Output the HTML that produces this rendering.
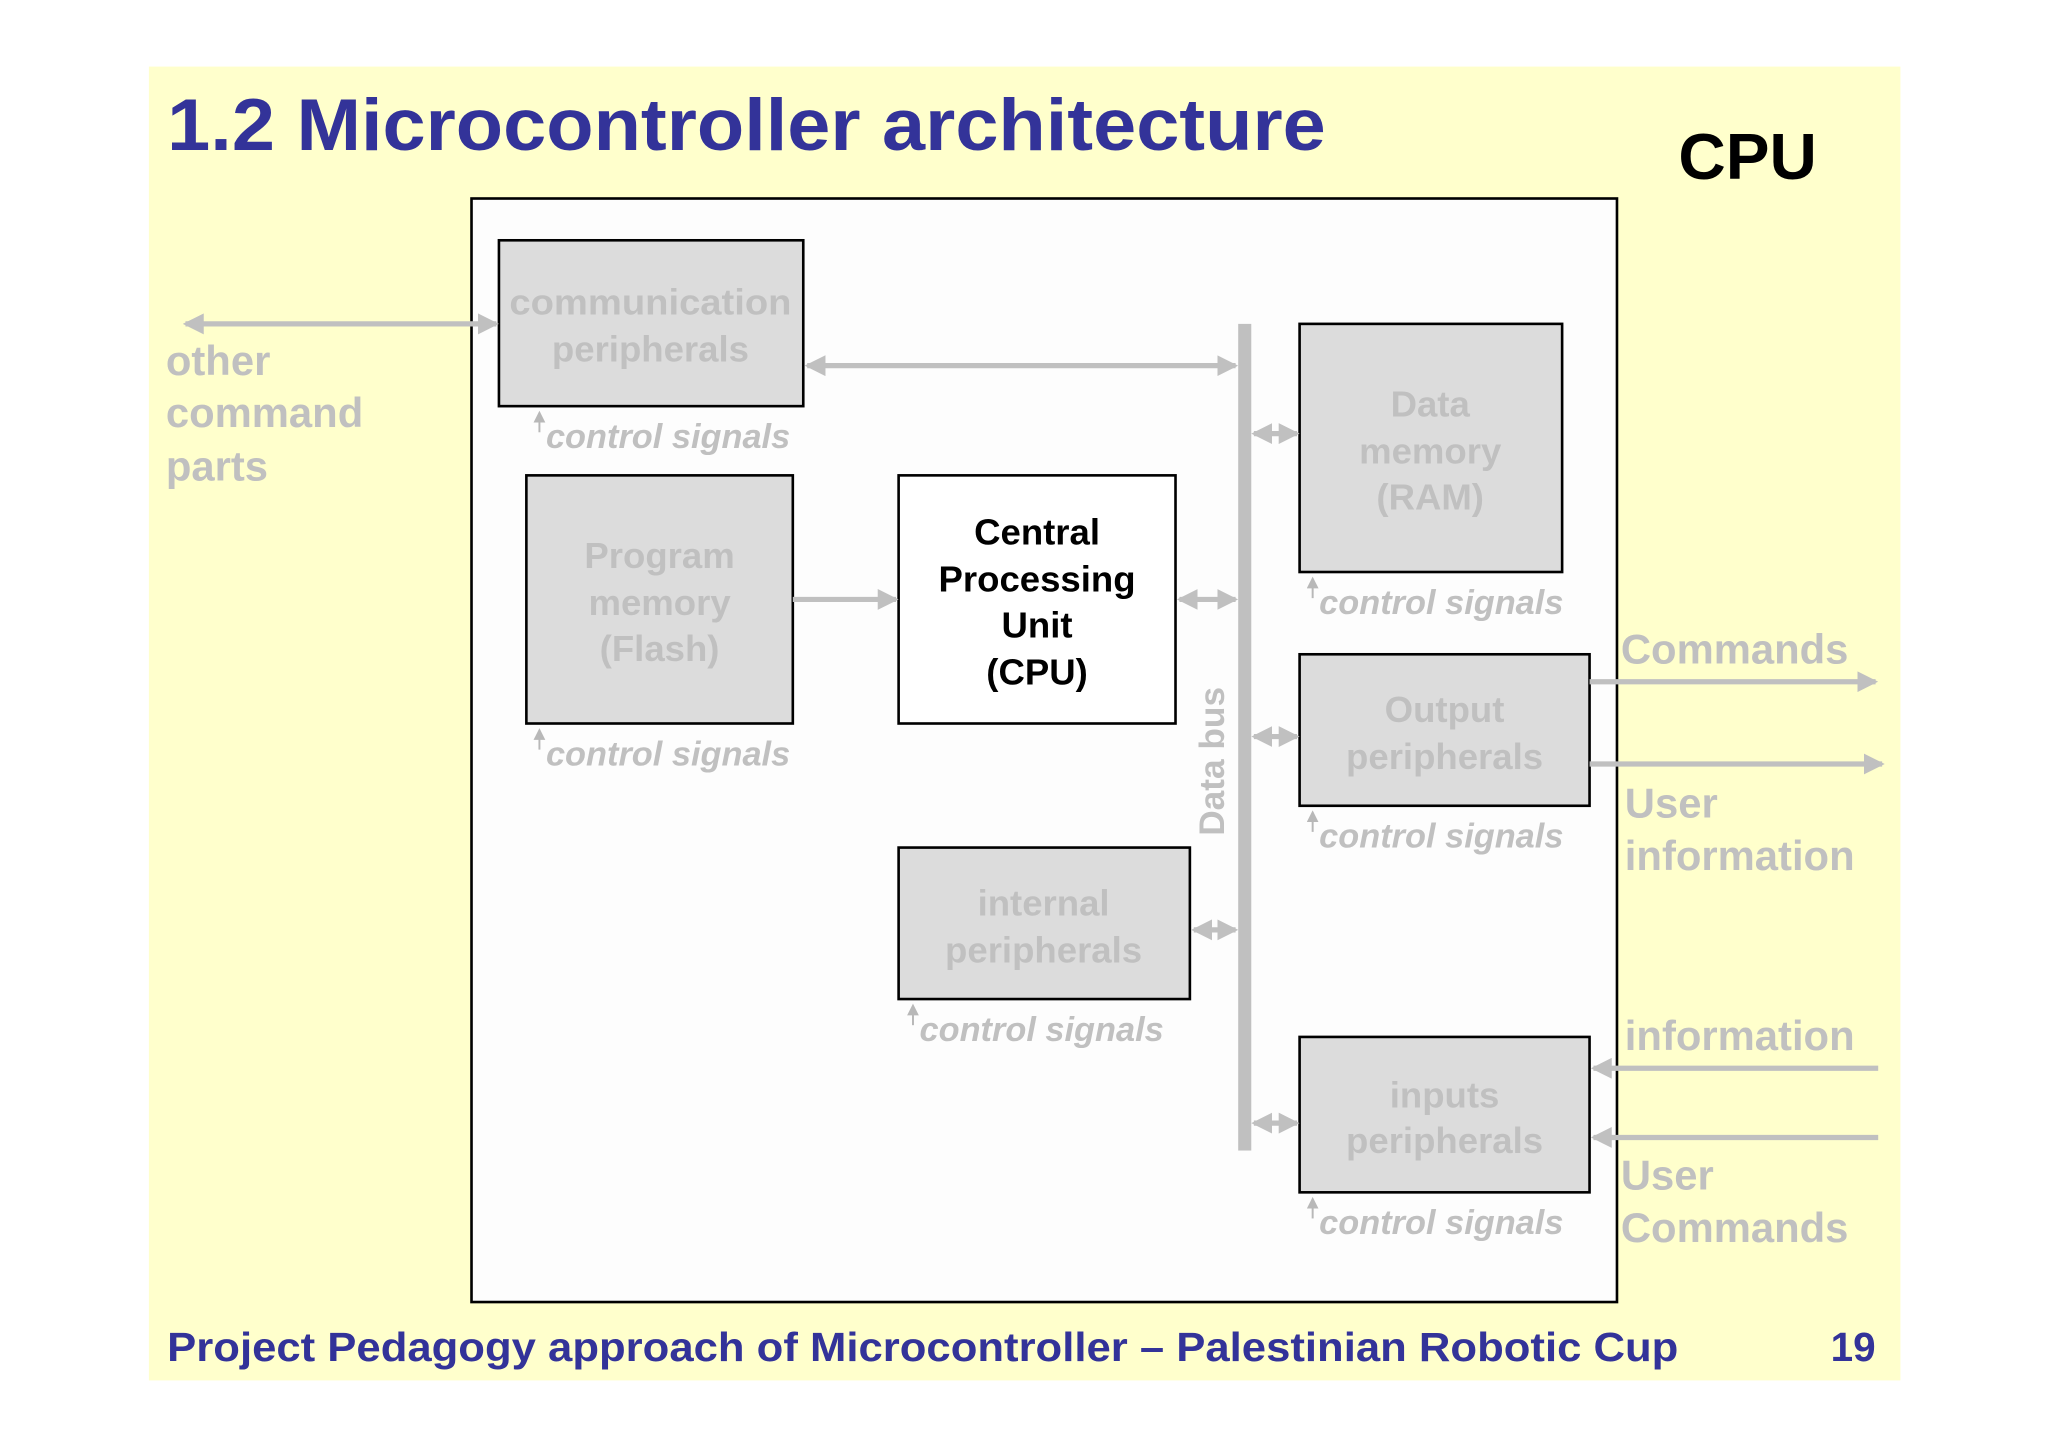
<!DOCTYPE html>
<html><head><meta charset="utf-8"><style>
html,body{margin:0;padding:0;background:#fff;}
svg{display:block;}
text{font-family:"Liberation Sans",Arial,sans-serif;font-weight:bold;}
</style></head><body>
<svg width="2048" height="1447" viewBox="0 0 1568 1108" preserveAspectRatio="none" xmlns="http://www.w3.org/2000/svg">
<defs>
<marker id="ah" markerWidth="4" markerHeight="4" refX="3.5" refY="2" orient="auto-start-reverse" markerUnits="strokeWidth">
<path d="M0,0 L4,2 L0,4 z" fill="#c0c0c0"/>
</marker>
<marker id="sm" markerWidth="6" markerHeight="6" refX="5" refY="3" orient="auto" markerUnits="strokeWidth">
<path d="M0,0 L6,3 L0,6 z" fill="#b8b8b8"/>
</marker>
</defs>
<rect x="0" y="0" width="1568" height="1108" fill="#fff"/>
<rect x="114" y="51" width="1341" height="1006" fill="#ffffcc"/>
<text x="128" y="115" font-size="56" fill="#333399" textLength="887" lengthAdjust="spacingAndGlyphs">1.2 Microcontroller architecture</text>
<text x="1285" y="137" font-size="50" fill="#000" textLength="106" lengthAdjust="spacingAndGlyphs">CPU</text>
<rect x="361" y="152" width="877" height="845" fill="#fdfdfd" stroke="#000" stroke-width="2"/>

<g stroke="#000" stroke-width="2">
<rect x="382" y="184" width="233" height="127" fill="#dcdcdc"/>
<rect x="403" y="364" width="204" height="190" fill="#dcdcdc"/>
<rect x="688" y="364" width="212" height="190" fill="#fff"/>
<rect x="995" y="248" width="201" height="190" fill="#dcdcdc"/>
<rect x="995" y="501" width="222" height="116" fill="#dcdcdc"/>
<rect x="688" y="649" width="223" height="116" fill="#dcdcdc"/>
<rect x="995" y="794" width="222" height="119" fill="#dcdcdc"/>
</g>
<rect x="948" y="248" width="10" height="633" fill="#c0c0c0"/>

<g stroke="#c0c0c0" stroke-width="4" fill="none">
<line x1="142" y1="248" x2="380" y2="248" marker-start="url(#ah)" marker-end="url(#ah)"/>
<line x1="618" y1="280" x2="946" y2="280" marker-start="url(#ah)" marker-end="url(#ah)"/>
<line x1="607" y1="459" x2="686" y2="459" marker-end="url(#ah)"/>
<line x1="903" y1="459" x2="946" y2="459" marker-start="url(#ah)" marker-end="url(#ah)"/>
<line x1="960" y1="332" x2="993" y2="332" marker-start="url(#ah)" marker-end="url(#ah)"/>
<line x1="960" y1="564" x2="993" y2="564" marker-start="url(#ah)" marker-end="url(#ah)"/>
<line x1="914" y1="712" x2="946" y2="712" marker-start="url(#ah)" marker-end="url(#ah)"/>
<line x1="960" y1="860" x2="993" y2="860" marker-start="url(#ah)" marker-end="url(#ah)"/>
<line x1="1217" y1="522" x2="1436" y2="522" marker-end="url(#ah)"/>
<line x1="1217" y1="585" x2="1441" y2="585" marker-end="url(#ah)"/>
<line x1="1438" y1="818" x2="1220" y2="818" marker-end="url(#ah)"/>
<line x1="1438" y1="871" x2="1220" y2="871" marker-end="url(#ah)"/>
</g>
<g stroke="#b8b8b8" stroke-width="1.5">
<line x1="413" y1="331" x2="413" y2="316" marker-end="url(#sm)"/>
<line x1="413" y1="574" x2="413" y2="559" marker-end="url(#sm)"/>
<line x1="1005" y1="458" x2="1005" y2="443" marker-end="url(#sm)"/>
<line x1="1005" y1="637" x2="1005" y2="622" marker-end="url(#sm)"/>
<line x1="699" y1="785" x2="699" y2="770" marker-end="url(#sm)"/>
<line x1="1005" y1="933" x2="1005" y2="918" marker-end="url(#sm)"/>
</g>

<g fill="#c0c0c0" font-size="28" text-anchor="middle">
<text x="498" y="241" textLength="216" lengthAdjust="spacingAndGlyphs">communication</text>
<text x="498" y="277">peripherals</text>
<text x="505" y="435">Program</text>
<text x="505" y="471">memory</text>
<text x="505" y="506">(Flash)</text>
<text x="1095" y="319">Data</text>
<text x="1095" y="355">memory</text>
<text x="1095" y="390">(RAM)</text>
<text x="1106" y="553">Output</text>
<text x="1106" y="589">peripherals</text>
<text x="799" y="701">internal</text>
<text x="799" y="737">peripherals</text>
<text x="1106" y="848">inputs</text>
<text x="1106" y="883">peripherals</text>
<text transform="translate(937,583) rotate(-90)" font-size="27">Data bus</text>
</g>
<g fill="#000" font-size="28" text-anchor="middle">
<text x="794" y="417">Central</text>
<text x="794" y="453">Processing</text>
<text x="794" y="488">Unit</text>
<text x="794" y="524">(CPU)</text>
</g>
<g fill="#c0c0c0" font-size="26" font-style="italic">
<text x="418" y="343" textLength="187" lengthAdjust="spacingAndGlyphs">control signals</text>
<text x="418" y="586" textLength="187" lengthAdjust="spacingAndGlyphs">control signals</text>
<text x="1010" y="470" textLength="187" lengthAdjust="spacingAndGlyphs">control signals</text>
<text x="1010" y="649" textLength="187" lengthAdjust="spacingAndGlyphs">control signals</text>
<text x="704" y="797" textLength="187" lengthAdjust="spacingAndGlyphs">control signals</text>
<text x="1010" y="945" textLength="187" lengthAdjust="spacingAndGlyphs">control signals</text>
</g>
<g fill="#c0c0c0" font-size="32">
<text x="127" y="287">other</text>
<text x="127" y="327">command</text>
<text x="127" y="368">parts</text>
<text x="1241" y="508">Commands</text>
<text x="1244" y="626">User</text>
<text x="1244" y="666">information</text>
<text x="1244" y="804">information</text>
<text x="1241" y="911">User</text>
<text x="1241" y="951">Commands</text>
</g>
<text x="128" y="1042" font-size="31" fill="#333399" textLength="1157" lengthAdjust="spacingAndGlyphs">Project Pedagogy approach of Microcontroller – Palestinian Robotic Cup</text>
<text x="1436" y="1042" font-size="31" fill="#333399" text-anchor="end">19</text>
</svg>
</body></html>
